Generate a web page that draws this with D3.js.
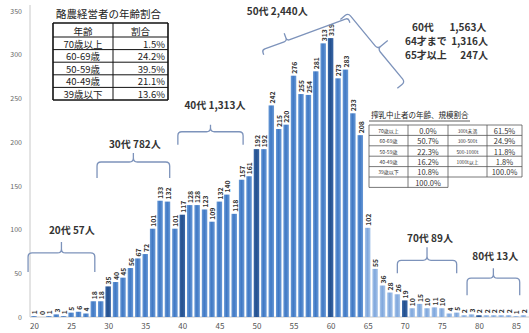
<!DOCTYPE html>
<html><head><meta charset="utf-8">
<script src="https://cdn.jsdelivr.net/npm/d3@7"></script>
<style>
body{margin:0;background:#fff}
svg{display:block}
text{font-family:"Noto Sans CJK JP","Noto Sans",sans-serif}
</style>
</head><body>
<svg id="chart" width="529" height="333"></svg>
<script>
// 年齢別の酪農経営者数
const ages = d3.range(20, 87);
const counts = [
  1, 0, 1, 3, 1, 5, 6, 4, 18, 18,
  35, 40, 45, 56, 67, 72, 101, 133, 132, 101,
  117, 128, 128, 123, 109, 132, 140, 118, 157, 161,
  192, 192, 242, 215, 220, 276, 255, 254, 281, 313,
  319, 273, 283, 233, 208, 102, 55, 36, 28, 26,
  19, 10, 15, 10, 11, 10, 4, 5, 2, 3,
  2, 2, 2, 2, 2, 1, 2
];
const xTicks = [20, 25, 30, 35, 40, 45, 50, 55, 60, 65, 70, 75, 80, 85];
const yTicks = [0, 50, 100, 150, 200, 250, 300, 350];

// 年代別の集計ラベル
const decadeLabels = ["20代 57人", "30代 782人", "40代 1,313人", "50代 2,440人", "70代 89人", "80代 13人"];
const sixtiesHeads = ["60代", "64才まで", "65才以上"];
const sixtiesCounts = ["1,563人", "1,316人", "247人"];

// 表：酪農経営者の年齢割合
const table1Title = "酪農経営者の年齢割合";
const table1Head = ["年齢", "割合"];
const table1Ages = ["70歳以上", "60-69歳", "50-59歳", "40-49歳", "39歳以下"];
const table1Share = ["1.5%", "24.2%", "39.5%", "21.1%", "13.6%"];

// 表：搾乳中止者の年齢、規模割合
const table2Title = "搾乳中止者の年齢、規模割合";
const table2Ages = ["70歳以上", "60-69歳", "50-59歳", "40-49歳", "39歳以下", ""];
const table2AgeShare = ["0.0%", "50.7%", "22.3%", "16.2%", "10.8%", "100.0%"];
const table2Sizes = ["300t未満", "300-500t", "500-1000t", "1000t以上", ""];
const table2SizeShare = ["61.5%", "24.9%", "11.8%", "1.8%", "100.0%"];

const svg = d3.select("#chart");
const x = d3.scaleLinear().domain([20, 85]).range([34, 516]);
const y = d3.scaleLinear().domain([0, 350]).range([317, 11]);
const step = x(21) - x(20);
const bw = step * 0.74;

// gradients for bar fills
const defs = svg.append("defs");
function grad(id, edge, mid) {
  const g = defs.append("linearGradient").attr("id", id).attr("x1", "0").attr("x2", "1");
  g.append("stop").attr("offset", "0%").attr("stop-color", edge);
  g.append("stop").attr("offset", "45%").attr("stop-color", mid);
  g.append("stop").attr("offset", "100%").attr("stop-color", edge);
}
grad("gMid", "#6a9ad6", "#3f78c4");
grad("gDark", "#3a68a8", "#24508e");
grad("gLight", "#a9c6ea", "#7ea6dc");
function barFill(a) {
  if (a % 10 === 0 && a >= 30) return "url(#gDark)";
  if (a >= 65) return "url(#gLight)";
  return "url(#gMid)";
}

// axes
const yAxis = svg.append("g").attr("transform", `translate(30,0)`)
  .call(d3.axisLeft(y).tickValues(yTicks).tickSize(0).tickPadding(8));
yAxis.select(".domain").attr("stroke", "#c8c8c8").attr("d", "M0,5V317");
yAxis.selectAll("text").attr("fill", "#666").attr("font-size", 7);

svg.append("line").attr("x1", 30).attr("x2", 529).attr("y1", y(0)).attr("y2", y(0))
  .attr("stroke", "#c8c8c8");
const xAxis = svg.append("g").attr("transform", `translate(0,${y(0)})`)
  .call(d3.axisBottom(x).tickValues(xTicks).tickSize(0).tickPadding(6));
xAxis.select(".domain").remove();
xAxis.selectAll("text").attr("fill", "#555").attr("font-size", 8);

// bars
const data = ages.map((a, i) => ({ age: a, v: counts[i] }));
svg.append("g").selectAll("rect").data(data).join("rect")
  .attr("x", d => x(d.age) - bw / 2)
  .attr("width", bw)
  .attr("y", d => y(d.v))
  .attr("height", d => y(0) - y(d.v))
  .attr("fill", d => barFill(d.age));

// value labels
svg.append("g").selectAll("text").data(data).join("text")
  .attr("transform", d => `translate(${x(d.age) + 0.3},${y(d.v) - 2}) rotate(-90)`)
  .attr("text-anchor", "start")
  .attr("dominant-baseline", "central")
  .attr("font-size", 6.8)
  .attr("font-weight", "bold")
  .attr("fill", "#333")
  .text(d => d.v);

// braces
function bracePath(p1, p2, hook, tip, at) {
  const L = Math.hypot(p2[0] - p1[0], p2[1] - p1[1]);
  const d = [(p2[0] - p1[0]) / L, (p2[1] - p1[1]) / L];
  const n = [d[1], -d[0]];
  const P = (u, v) => [p1[0] + u * d[0] + v * n[0], p1[1] + u * d[1] + v * n[1]];
  const r = Math.min(4, hook * 0.6);
  const c = L * at;
  const pt = p => p[0].toFixed(2) + "," + p[1].toFixed(2);
  return "M" + pt(P(0, 0)) +
    "L" + pt(P(0, hook - r)) + "Q" + pt(P(0, hook)) + " " + pt(P(r, hook)) +
    "L" + pt(P(c - r, hook)) + "Q" + pt(P(c, hook)) + " " + pt(P(c, hook + r)) +
    "L" + pt(P(c, tip)) +
    "M" + pt(P(c, hook + r)) + "Q" + pt(P(c, hook)) + " " + pt(P(c + r, hook)) +
    "L" + pt(P(L - r, hook)) + "Q" + pt(P(L, hook)) + " " + pt(P(L, hook - r)) +
    "L" + pt(P(L, 0));
}
// [age, value] end points of each brace, hook/tip lengths in px, tip position along brace
const braceLayout = [
  { from: [19.2, 51.5], to: [28.2, 51.5], hook: 19, tip: 30, at: 0.5 },
  { from: [28.5, 159], to: [38.3, 159], hook: 16, tip: 25, at: 0.5 },
  { from: [39.4, 197], to: [48.2, 197], hook: 13, tip: 20, at: 0.5 },
  { from: [50.98, 300], to: [62.6, 336.6], hook: 5, tip: 13, at: 0.29 },
  { from: [61.32, 340.4], to: [69.0, 261.5], hook: 10, tip: 23, at: 0.52 },
  { from: [69.0, 50], to: [77.0, 50], hook: 13, tip: 26, at: 0.5 },
  { from: [78.4, 25], to: [85.5, 25], hook: 17, tip: 27, at: 0.5 }
];
svg.append("g").selectAll("path").data(braceLayout).join("path")
  .attr("d", b => bracePath([x(b.from[0]), y(b.from[1])], [x(b.to[0]), y(b.to[1])], b.hook, b.tip, b.at))
  .attr("fill", "none").attr("stroke", "#7d93bb").attr("stroke-width", 1.3);

// decade labels, centred at [age, value]
const labelLayout = [[25.1, 100.6], [33.6, 197.9], [44.4, 243.6], [52.8, 351.1], [73.4, 91.5], [82.2, 70.9]];
svg.append("g").selectAll("text").data(decadeLabels).join("text")
  .attr("x", (t, i) => x(labelLayout[i][0]))
  .attr("y", (t, i) => y(labelLayout[i][1]))
  .attr("text-anchor", "middle").attr("dominant-baseline", "central")
  .attr("font-size", 10).attr("font-weight", "bold").attr("fill", "#333")
  .text(t => t);

// 60代の内訳：見出しは左揃え、人数は右揃え
const sixtiesRows = [332.8, 315.7, 299.7];
const sixtiesLeft = [70.98, 70.03, 70.03];
const sixtiesRight = [81.0, 81.23, 81.23];
const g60 = svg.append("g").attr("font-size", 10).attr("font-weight", "bold").attr("fill", "#333");
g60.selectAll("text.h").data(sixtiesHeads).join("text").attr("class", "h")
  .attr("x", (t, i) => x(sixtiesLeft[i])).attr("y", (t, i) => y(sixtiesRows[i]))
  .attr("dominant-baseline", "central").text(t => t);
g60.selectAll("text.c").data(sixtiesCounts).join("text").attr("class", "c")
  .attr("x", (t, i) => x(sixtiesRight[i])).attr("y", (t, i) => y(sixtiesRows[i]))
  .attr("text-anchor", "end").attr("dominant-baseline", "central").text(t => t);

// table 1
const t1 = svg.append("g");
t1.append("rect").attr("x", 50).attr("y", 6).attr("width", 122).attr("height", 97).attr("fill", "#fff");
t1.append("text").attr("x", 56).attr("y", 18).attr("font-size", 10.5).attr("fill", "#222").text(table1Title);
const t1x = [53, 113, 168];
const t1y = [23, 37].concat(d3.range(1, 6).map(i => 37 + i * 12.6));
t1y.forEach((yy, i) => t1.append("line").attr("x1", t1x[0]).attr("x2", t1x[2]).attr("y1", yy).attr("y2", yy)
  .attr("stroke", "#111").attr("stroke-width", (i === 0 || i === t1y.length - 1) ? 1.6 : 1));
t1x.forEach((xx, i) => t1.append("line").attr("x1", xx).attr("x2", xx).attr("y1", t1y[0]).attr("y2", t1y[t1y.length - 1])
  .attr("stroke", "#111").attr("stroke-width", i === 1 ? 1 : 1.6));
table1Head.forEach((h, i) => t1.append("text").attr("x", (t1x[i] + t1x[i + 1]) / 2).attr("y", 30.5)
  .attr("text-anchor", "middle").attr("dominant-baseline", "central").attr("font-size", 9.5).attr("fill", "#222").text(h));
table1Ages.forEach((a, i) => t1.append("text").attr("x", 83).attr("y", t1y[i + 1] + 6.5)
  .attr("text-anchor", "middle").attr("dominant-baseline", "central").attr("font-size", 9.5).attr("fill", "#222").text(a));
table1Share.forEach((s, i) => t1.append("text").attr("x", 165).attr("y", t1y[i + 1] + 6.5)
  .attr("text-anchor", "end").attr("dominant-baseline", "central").attr("font-size", 9.5).attr("fill", "#222").text(s));

// table 2
const t2 = svg.append("g");
t2.append("rect").attr("x", 367).attr("y", 108).attr("width", 158).attr("height", 83).attr("fill", "#fff");
t2.append("text").attr("x", 371).attr("y", 118).attr("font-size", 7.5).attr("fill", "#222").text(table2Title);
t2.append("line").attr("x1", 369).attr("x2", 470).attr("y1", 121).attr("y2", 121).attr("stroke", "#333").attr("stroke-width", 0.8);
const t2x = [369, 408, 448, 487, 522];
const rh = 10.4, t2y0 = 125;
for (let i = 0; i <= 5; i++) {
  t2.append("line").attr("x1", t2x[0]).attr("x2", t2x[4]).attr("y1", t2y0 + i * rh).attr("y2", t2y0 + i * rh)
    .attr("stroke", "#555").attr("stroke-width", 0.8);
}
t2.append("line").attr("x1", t2x[0]).attr("x2", t2x[2]).attr("y1", t2y0 + 6 * rh).attr("y2", t2y0 + 6 * rh)
  .attr("stroke", "#555").attr("stroke-width", 0.8);
t2x.forEach((xx, i) => t2.append("line").attr("x1", xx).attr("x2", xx).attr("y1", t2y0)
  .attr("y2", t2y0 + (i <= 2 ? 6 : 5) * rh).attr("stroke", "#555").attr("stroke-width", 0.8));
table2Ages.forEach((a, i) => t2.append("text").attr("x", (t2x[0] + t2x[1]) / 2).attr("y", t2y0 + i * rh + rh / 2)
  .attr("text-anchor", "middle").attr("dominant-baseline", "central").attr("font-size", 5).attr("fill", "#333").text(a));
table2AgeShare.forEach((s, i) => t2.append("text").attr("x", (t2x[1] + t2x[2]) / 2).attr("y", t2y0 + i * rh + rh / 2)
  .attr("text-anchor", "middle").attr("dominant-baseline", "central").attr("font-size", 7.5).attr("fill", "#333").text(s));
table2Sizes.forEach((s, i) => t2.append("text").attr("x", (t2x[2] + t2x[3]) / 2).attr("y", t2y0 + i * rh + rh / 2)
  .attr("text-anchor", "middle").attr("dominant-baseline", "central").attr("font-size", 4.8).attr("fill", "#333").text(s));
table2SizeShare.forEach((s, i) => t2.append("text").attr("x", (t2x[3] + t2x[4]) / 2).attr("y", t2y0 + i * rh + rh / 2)
  .attr("text-anchor", "middle").attr("dominant-baseline", "central").attr("font-size", 7.5).attr("fill", "#333").text(s));
</script>
</body></html>
